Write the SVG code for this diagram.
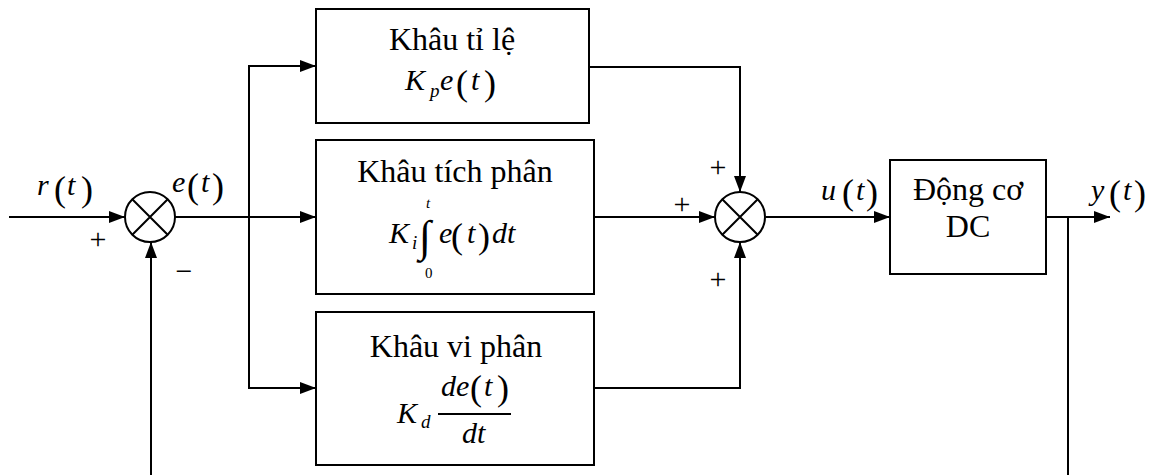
<svg xmlns="http://www.w3.org/2000/svg" width="1153" height="475" viewBox="0 0 1153 475">
<defs>
<marker id="ar" markerUnits="userSpaceOnUse" markerWidth="16" markerHeight="12" refX="16" refY="6" orient="auto">
<path d="M0,0 L16,6 L0,12 z" fill="#000"/>
</marker>
</defs>
<g id="connectors" fill="none" stroke="#000" stroke-width="2">
<path d="M9,217 H125" marker-end="url(#ar)"/>
<path d="M175,217 H316" marker-end="url(#ar)"/>
<path d="M249,66 V388"/>
<path d="M248,66 H316" marker-end="url(#ar)"/>
<path d="M248,388 H316" marker-end="url(#ar)"/>
<path d="M589,67 H740 V192" marker-end="url(#ar)"/>
<path d="M594,217 H715" marker-end="url(#ar)"/>
<path d="M594,388 H740 V242" marker-end="url(#ar)"/>
<path d="M766,217 H890" marker-end="url(#ar)"/>
<path d="M1046,217 H1110" marker-end="url(#ar)"/>
<path d="M1068,217 V475"/>
<path d="M151,475 V242" marker-end="url(#ar)"/>
</g>
<g id="sum1" fill="none" stroke="#000" stroke-width="2">
<circle cx="150" cy="217" r="25"/>
<path d="M132.3,199.3 L167.7,234.7 M167.7,199.3 L132.3,234.7"/>
</g>
<g id="sum2" fill="none" stroke="#000" stroke-width="2">
<circle cx="740" cy="217" r="25"/>
<path d="M722.3,199.3 L757.7,234.7 M757.7,199.3 L722.3,234.7"/>
</g>
<g id="signs">
<text font-family="Liberation Serif" font-size="30" x="98" y="249" text-anchor="middle">+</text>
<text font-family="Liberation Serif" font-size="30" x="184" y="281" text-anchor="middle">−</text>
<text font-family="Liberation Serif" font-size="30" x="718" y="177" text-anchor="middle">+</text>
<text font-family="Liberation Serif" font-size="30" x="682" y="214" text-anchor="middle">+</text>
<text font-family="Liberation Serif" font-size="30" x="718" y="289" text-anchor="middle">+</text>
</g>
<g id="label-r">
<text font-family="Liberation Serif" font-size="30" font-style="italic" x="37" y="195">r</text>
<text font-family="Liberation Serif" font-size="36" x="54" y="201">(</text>
<text font-family="Liberation Serif" font-size="30" font-style="italic" x="67" y="195">t</text>
<text font-family="Liberation Serif" font-size="36" x="81" y="201">)</text>
</g>
<g id="label-e">
<text font-family="Liberation Serif" font-size="30" font-style="italic" x="172" y="192">e</text>
<text font-family="Liberation Serif" font-size="36" x="187" y="198">(</text>
<text font-family="Liberation Serif" font-size="30" font-style="italic" x="201" y="192">t</text>
<text font-family="Liberation Serif" font-size="36" x="212" y="198">)</text>
</g>
<g id="label-u">
<text font-family="Liberation Serif" font-size="30" font-style="italic" x="821" y="200">u</text>
<text font-family="Liberation Serif" font-size="36" x="842" y="204">(</text>
<text font-family="Liberation Serif" font-size="30" font-style="italic" x="856" y="200">t</text>
<text font-family="Liberation Serif" font-size="36" x="866" y="204">)</text>
</g>
<g id="label-y">
<text font-family="Liberation Serif" font-size="30" font-style="italic" x="1091" y="200">y</text>
<text font-family="Liberation Serif" font-size="36" x="1109" y="205">(</text>
<text font-family="Liberation Serif" font-size="30" font-style="italic" x="1123" y="200">t</text>
<text font-family="Liberation Serif" font-size="36" x="1134" y="205">)</text>
</g>
<g id="box-p">
<rect x="316" y="9" width="273" height="114" fill="#fff" stroke="#000" stroke-width="2"/>
<text font-family="Liberation Serif" font-size="32" x="452" y="50" text-anchor="middle">Khâu tỉ lệ</text>
<text font-family="Liberation Serif" font-size="30" font-style="italic" x="405" y="90">K</text>
<text font-family="Liberation Serif" font-size="19" font-style="italic" x="430" y="97">p</text>
<text font-family="Liberation Serif" font-size="30" font-style="italic" x="440" y="90">e</text>
<text font-family="Liberation Serif" font-size="36" x="456" y="95">(</text>
<text font-family="Liberation Serif" font-size="30" font-style="italic" x="471" y="90">t</text>
<text font-family="Liberation Serif" font-size="36" x="484" y="95">)</text>
</g>
<g id="box-i">
<rect x="316" y="140" width="278" height="154" fill="#fff" stroke="#000" stroke-width="2"/>
<text font-family="Liberation Serif" font-size="32" x="455" y="182" text-anchor="middle">Khâu tích phân</text>
<text font-family="Liberation Serif" font-size="30" font-style="italic" x="389" y="243">K</text>
<text font-family="Liberation Serif" font-size="19" font-style="italic" x="412" y="249">i</text>
<text font-family="Liberation Serif" font-size="44" x="419" y="251">∫</text>
<text font-family="Liberation Serif" font-size="15" font-style="italic" x="426" y="208">t</text>
<text font-family="Liberation Serif" font-size="15" x="425" y="278">0</text>
<text font-family="Liberation Serif" font-size="30" font-style="italic" x="439" y="243">e</text>
<text font-family="Liberation Serif" font-size="36" x="451" y="248">(</text>
<text font-family="Liberation Serif" font-size="30" font-style="italic" x="467" y="243">t</text>
<text font-family="Liberation Serif" font-size="36" x="478" y="248">)</text>
<text font-family="Liberation Serif" font-size="30" font-style="italic" x="492" y="243">dt</text>
</g>
<g id="box-d">
<rect x="316" y="312" width="278" height="153" fill="#fff" stroke="#000" stroke-width="2"/>
<text font-family="Liberation Serif" font-size="32" x="456" y="357" text-anchor="middle">Khâu vi phân</text>
<text font-family="Liberation Serif" font-size="30" font-style="italic" x="397" y="423">K</text>
<text font-family="Liberation Serif" font-size="19" font-style="italic" x="421" y="428">d</text>
<text font-family="Liberation Serif" font-size="30" font-style="italic" x="441" y="396">de</text>
<text font-family="Liberation Serif" font-size="36" x="470" y="400">(</text>
<text font-family="Liberation Serif" font-size="30" font-style="italic" x="484" y="396">t</text>
<text font-family="Liberation Serif" font-size="36" x="497" y="400">)</text>
<path d="M438,414 H511" stroke="#000" stroke-width="2"/>
<text font-family="Liberation Serif" font-size="30" font-style="italic" x="462" y="443">dt</text>
</g>
<g id="box-dc">
<rect x="890" y="160" width="156" height="114" fill="#fff" stroke="#000" stroke-width="2"/>
<text font-family="Liberation Serif" font-size="32" x="968" y="200" text-anchor="middle">Động cơ</text>
<text font-family="Liberation Serif" font-size="32" x="968" y="237" text-anchor="middle">DC</text>
</g>
</svg>
